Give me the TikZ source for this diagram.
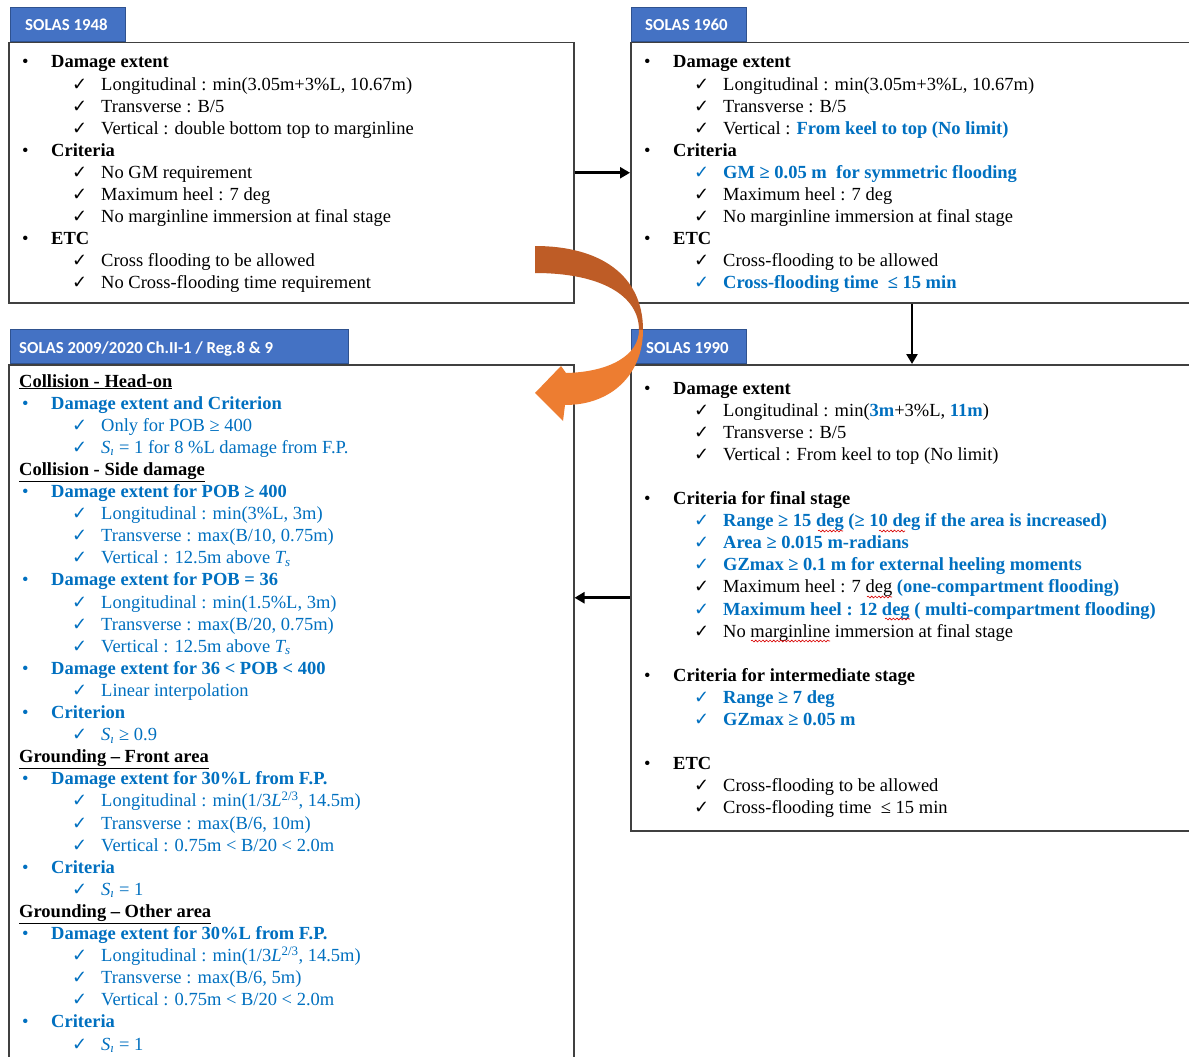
\documentclass[tikz,border=0pt]{standalone}
\usepackage{fontspec}
\setmainfont{Liberation Serif}
\newfontfamily\ckfont{DejaVu Sans}
\newfontfamily\tabfont{Carlito}
\usetikzlibrary{arrows.meta,decorations.pathmorphing}
\definecolor{tabblue}{HTML}{4472C4}
\definecolor{tabedge}{HTML}{2F528F}
\definecolor{txtblue}{HTML}{0070C0}
\definecolor{arrdark}{HTML}{BE5C26}
\definecolor{arrlight}{HTML}{ED7D31}
\definecolor{boxline}{HTML}{404040}
\newcommand\ck{{\ckfont\fontsize{18}{18}\selectfont ✓}}
\newcommand\hdr[1]{\makebox[29pt][l]{•}\textbf{#1}}
\newcommand\ckitem[1]{\hspace*{50pt}\makebox[29pt][l]{\ck}#1}
\newcommand\bckitem[1]{\hspace*{50pt}\makebox[29pt][l]{\textcolor{txtblue}{\ck}}#1}
\newcommand\bb[1]{\textcolor{txtblue}{\textbf{#1}}}
\newcommand\uhd[1]{\hspace*{-3pt}\textcolor{black}{\underline{\textbf{#1}}}}
\newcommand\Si{{\itshape S}\textsubscript{\itshape ı}}
\newcommand\Ts{{\itshape T}\textsubscript{\itshape s}}
\newcommand\Lt{{\itshape L}\textsuperscript{2/3}}
\begin{document}
\begin{tikzpicture}[x=1pt,y=-1pt,
  tab/.style={draw=tabedge, line width=0.6pt, fill=tabblue, minimum height=34pt, inner sep=0pt, anchor=south west},
  tabtext/.style={anchor=base west, inner sep=0pt, text=white, font=\tabfont\bfseries\fontsize{16.8}{18}\selectfont},
  box/.style={draw=boxline, line width=1.5pt, inner sep=0pt, anchor=north west},
  body/.style={anchor=base west, inner sep=0pt, font=\fontsize{18.5}{22.1}\selectfont},
  conn/.style={line width=2.6pt, -{Triangle[length=10pt,width=11pt]}},
  squiggle/.style={draw=red!85!black, line width=0.6pt, decorate, decoration={snake, amplitude=0.9pt, segment length=3.6pt}}]
\useasboundingbox (0,0) rectangle (1189,1057);
\clip (0,0) rectangle (1189,1057);
\fill[white] (0,0) rectangle (1189,1057);

% tabs
\node[tab, minimum width=115pt] (t1948) at (10,42) {};
\node[tab, minimum width=115pt] (t1960) at (631,42) {};
\node[tab, minimum width=115pt] (t1990) at (631,364) {};
\node[tab, minimum width=338pt] (t2009) at (10,364) {};
\node[tabtext] (l1948) at (25,31) {SOLAS 1948};
\node[tabtext] (l1960) at (645,31) {SOLAS 1960};
\node[tabtext] (l1990) at (646,353) {SOLAS 1990};
\node[tabtext] (l2009) at (19,353) {SOLAS 2009/2020 Ch.II-1 / Reg.8 \& 9};

% boxes
\node[box, minimum width=565pt, minimum height=260pt] (b1948) at (8,42) {};
\node[box, minimum width=575pt, minimum height=260pt] (b1960) at (630,42) {};
\node[box, minimum width=575pt, minimum height=466pt] (b1990) at (630,364) {};
\node[box, minimum width=565pt, minimum height=720pt] (b2009) at (8,364) {};

% texts
\node[body] (x1948) at (22,68) {\begin{tabular}[t]{@{}l@{}}
\hdr{Damage extent}\\
\ckitem{Longitudinal : min(3.05m+3\%L, 10.67m)}\\
\ckitem{Transverse : B/5}\\
\ckitem{Vertical : double bottom top to marginline}\\
\hdr{Criteria}\\
\ckitem{No GM requirement}\\
\ckitem{Maximum heel : 7 deg}\\
\ckitem{No marginline immersion at final stage}\\
\hdr{ETC}\\
\ckitem{Cross flooding to be allowed}\\
\ckitem{No Cross-flooding time requirement}
\end{tabular}};

\node[body] (x1960) at (644,68) {\begin{tabular}[t]{@{}l@{}}
\hdr{Damage extent}\\
\ckitem{Longitudinal : min(3.05m+3\%L, 10.67m)}\\
\ckitem{Transverse : B/5}\\
\ckitem{Vertical : \bb{From keel to top (No limit)}}\\
\hdr{Criteria}\\
\bckitem{\bb{GM ≥ 0.05 m\ \ for symmetric flooding}}\\
\ckitem{Maximum heel : 7 deg}\\
\ckitem{No marginline immersion at final stage}\\
\hdr{ETC}\\
\ckitem{Cross-flooding to be allowed}\\
\bckitem{\bb{Cross-flooding time\ \ ≤ 15 min}}
\end{tabular}};

\node[body] (x1990) at (644,394) {\begin{tabular}[t]{@{}l@{}}
\hdr{Damage extent}\\
\ckitem{Longitudinal : min(\bb{3m}+3\%L, \bb{11m})}\\
\ckitem{Transverse : B/5}\\
\ckitem{Vertical : From keel to top (No limit)}\\
\mbox{}\\
\hdr{Criteria for final stage}\\
\bckitem{\bb{Range ≥ 15 deg (≥ 10 deg if the area is increased)}}\\
\bckitem{\bb{Area ≥ 0.015 m-radians}}\\
\bckitem{\bb{GZmax ≥ 0.1 m for external heeling moments}}\\
\ckitem{Maximum heel : 7 deg \bb{(one-compartment flooding)}}\\
\bckitem{\bb{Maximum heel : 12 deg ( multi-compartment flooding)}}\\
\ckitem{No marginline immersion at final stage}\\
\mbox{}\\
\hdr{Criteria for intermediate stage}\\
\bckitem{\bb{Range ≥ 7 deg}}\\
\bckitem{\bb{GZmax ≥ 0.05 m}}\\
\mbox{}\\
\hdr{ETC}\\
\ckitem{Cross-flooding to be allowed}\\
\ckitem{Cross-flooding time\ \ ≤ 15 min}
\end{tabular}};

\node[body, text=txtblue] (x2009) at (22,387) {\begin{tabular}[t]{@{}l@{}}
\uhd{Collision - Head-on}\\
\hdr{Damage extent and Criterion}\\
\ckitem{Only for POB ≥ 400}\\
\ckitem{\Si{} = 1 for 8 \%L damage from F.P.}\\
\uhd{Collision - Side damage}\\
\hdr{Damage extent for POB ≥ 400}\\
\ckitem{Longitudinal : min(3\%L, 3m)}\\
\ckitem{Transverse : max(B/10, 0.75m)}\\
\ckitem{Vertical : 12.5m above \Ts}\\
\hdr{Damage extent for POB = 36}\\
\ckitem{Longitudinal : min(1.5\%L, 3m)}\\
\ckitem{Transverse : max(B/20, 0.75m)}\\
\ckitem{Vertical : 12.5m above \Ts}\\
\hdr{Damage extent for 36 < POB < 400}\\
\ckitem{Linear interpolation}\\
\hdr{Criterion}\\
\ckitem{\Si{} ≥ 0.9}\\
\uhd{Grounding – Front area}\\
\hdr{Damage extent for 30\%L from F.P.}\\
\ckitem{Longitudinal : min(1/3\Lt, 14.5m)}\\
\ckitem{Transverse : max(B/6, 10m)}\\
\ckitem{Vertical : 0.75m < B/20 < 2.0m}\\
\hdr{Criteria}\\
\ckitem{\Si{} = 1}\\
\uhd{Grounding – Other area}\\
\hdr{Damage extent for 30\%L from F.P.}\\
\ckitem{Longitudinal : min(1/3\Lt, 14.5m)}\\
\ckitem{Transverse : max(B/6, 5m)}\\
\ckitem{Vertical : 0.75m < B/20 < 2.0m}\\
\hdr{Criteria}\\
\ckitem{\Si{} = 1}
\end{tabular}};

% spell-check squiggles (1990 box)
\path[squiggle] (818,531) -- (843,531);
\path[squiggle] (879,531) -- (905,531);
\path[squiggle] (867,597) -- (892,597);
\path[squiggle] (885,619) -- (910,619);
\path[squiggle] (751,641) -- (830,641);

% connectors
\coordinate (dx) at (912,0);
\draw[conn] (b1948.east) -- (b1948.east -| b1960.west);
\draw[conn] (dx |- b1960.south) -- (dx |- b1990.north);
\draw[conn] (b1990.west) -- (b1990.west -| b2009.east);

% curved orange arrow
\fill[arrdark] (535,246) .. controls (600,246) and (643,275) .. (643,330)
  -- (639,330) .. controls (639,295) and (600,273) .. (535,273) -- cycle;
\fill[arrlight] (643,330) .. controls (643,374) and (612,405) .. (565,405)
  -- (563,421) -- (535,393) -- (561,366) -- (566,373)
  .. controls (610,372) and (639,355) .. (639,330) -- cycle;
\end{tikzpicture}
\end{document}
